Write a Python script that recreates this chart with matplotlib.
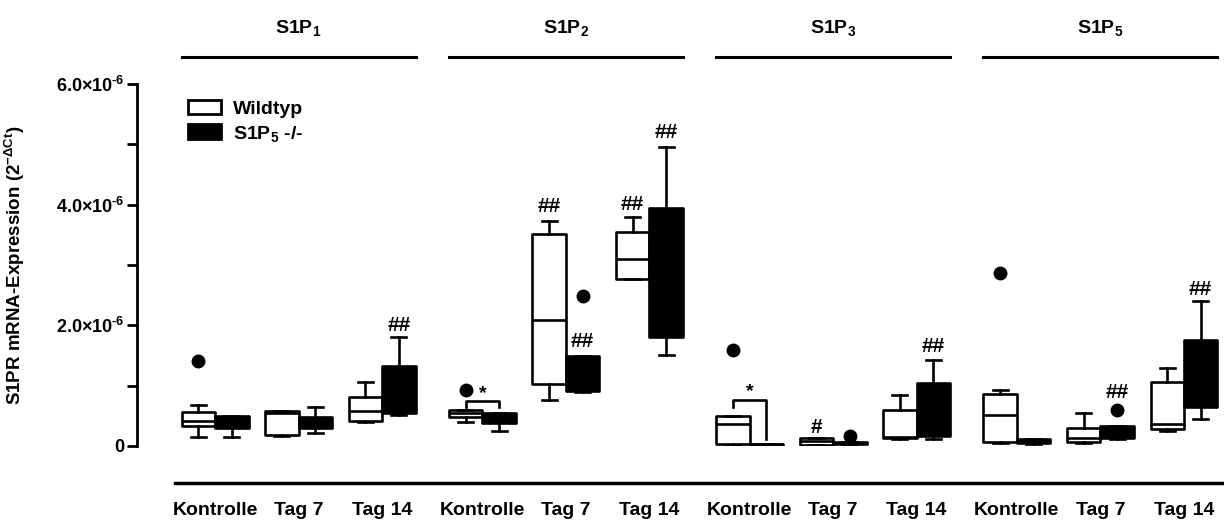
import matplotlib
matplotlib.use("Agg")
import matplotlib.pyplot as plt
from matplotlib.patches import Patch

plt.rcParams['font.family'] = ['Liberation Sans', 'DejaVu Sans']
plt.rcParams['font.weight'] = 'bold'
plt.rcParams['mathtext.fontset'] = 'custom'
plt.rcParams['mathtext.rm'] = 'Liberation Sans'
plt.rcParams['mathtext.bf'] = 'Liberation Sans:bold'
plt.rcParams['mathtext.it'] = 'Liberation Sans:italic'

# Gruppen und Zeitpunkte
rezeptoren = [r'$\mathbf{S1P_1}$', r'$\mathbf{S1P_2}$', r'$\mathbf{S1P_3}$', r'$\mathbf{S1P_5}$']
zeitpunkte = ['Kontrolle', 'Tag 7', 'Tag 14']

# Boxplot-Kennwerte (x 1e-6), Reihenfolge: S1P1 K/T7/T14, S1P2 ..., S1P3 ..., S1P5 ...
wt_lo  = [0.15, 0.17, 0.40, 0.40, 0.76, 2.76, 0.02, 0.01, 0.12, 0.05, 0.05, 0.25]
wt_q1  = [0.33, 0.18, 0.41, 0.48, 1.03, 2.77, 0.04, 0.02, 0.13, 0.06, 0.06, 0.28]
wt_med = [0.42, 0.55, 0.58, 0.54, 2.09, 3.10, 0.37, 0.08, 0.15, 0.52, 0.14, 0.37]
wt_q3  = [0.57, 0.58, 0.81, 0.59, 3.51, 3.55, 0.49, 0.135, 0.59, 0.86, 0.30, 1.06]
wt_hi  = [0.68, 0.58, 1.06, 0.60, 3.73, 3.79, 0.49, 0.135, 0.85, 0.92, 0.54, 1.30]

ko_lo  = [0.15, 0.22, 0.51, 0.25, 0.90, 1.50, 0.01, 0.03, 0.12, 0.04, 0.12, 0.44]
ko_q1  = [0.30, 0.30, 0.54, 0.38, 0.91, 1.80, 0.02, 0.04, 0.16, 0.05, 0.13, 0.64]
ko_med = [0.40, 0.40, 0.90, 0.45, 1.20, 2.80, 0.03, 0.05, 0.50, 0.08, 0.20, 1.20]
ko_q3  = [0.49, 0.48, 1.33, 0.55, 1.49, 3.94, 0.04, 0.07, 1.05, 0.12, 0.33, 1.75]
ko_hi  = [0.49, 0.65, 1.81, 0.55, 1.49, 4.95, 0.04, 0.07, 1.42, 0.12, 0.33, 2.40]

# Ausreisser: (Index, Genotyp, Wert)
ausreisser = [(0, 'wt', 1.40), (3, 'wt', 0.92), (4, 'ko', 2.49), (6, 'wt', 1.59),
              (7, 'ko', 0.16), (9, 'wt', 2.86), (10, 'ko', 0.59)]

# Signifikanzzeichen: (Index, Genotyp, Text, y)
zeichen = [(2, 'ko', '##', 1.99), (4, 'wt', '##', 3.96), (4, 'ko', '##', 1.73),
           (5, 'wt', '##', 4.00), (5, 'ko', '##', 5.19), (7, 'wt', '#', 0.31),
           (8, 'ko', '##', 1.65), (10, 'ko', '##', 0.88), (11, 'ko', '##', 2.60)]

# Klammern WT vs KO: (Index, y oben, y links unten, y rechts unten)
klammern = [(3, 0.74, 0.64, 0.64), (6, 0.77, 0.65, 0.12)]

E = 1e-6
gruppen_abstand = 3.2
pos = [g * gruppen_abstand + c for g in range(4) for c in range(3)]
dx = 0.2

fig = plt.figure(figsize=(12.24, 5.21), dpi=100)
ax = fig.add_axes([0.112, 0.144, 0.888, 0.695])

def stats(lo, q1, med, q3, hi):
    return [dict(whislo=a * E, q1=b * E, med=c * E, q3=d * E, whishi=e * E, fliers=[])
            for a, b, c, d, e in zip(lo, q1, med, q3, hi)]

lw = 1.9
for st, off, fc in [(stats(wt_lo, wt_q1, wt_med, wt_q3, wt_hi), -dx, 'white'),
                    (stats(ko_lo, ko_q1, ko_med, ko_q3, ko_hi), dx, 'black')]:
    ax.bxp(st, positions=[p + off for p in pos], widths=0.4, capwidths=0.18,
           patch_artist=True, showfliers=False, manage_ticks=False,
           boxprops=dict(facecolor=fc, edgecolor='black', linewidth=lw, joinstyle='round'),
           medianprops=dict(color='black', linewidth=lw),
           whiskerprops=dict(color='black', linewidth=lw),
           capprops=dict(color='black', linewidth=lw))

for i, gt, v in ausreisser:
    x = pos[i] + (-dx if gt == 'wt' else dx)
    ax.plot(x, v * E, 'o', color='black', ms=9, clip_on=False, zorder=5)

for i, gt, t, y in zeichen:
    x = pos[i] + (-dx if gt == 'wt' else dx)
    ax.text(x, y * E, t, ha='center', va='center', fontsize=15, fontweight='bold')

for i, top, lb, rb in klammern:
    xl, xr = pos[i] - dx, pos[i] + dx
    ax.plot([xl, xl, xr, xr], [lb * E, top * E, top * E, rb * E], color='black', lw=1.9)
    ax.text(pos[i], top * E + 0.13 * E, '*', ha='center', va='center', fontsize=14)

# Kopfzeilen mit Linien
for g, name in enumerate(rezeptoren):
    x0 = g * gruppen_abstand - 2 * dx
    x1 = g * gruppen_abstand + 2 + 2 * dx
    ax.plot([x0, x1], [6.44 * E] * 2, color='black', lw=2.2, clip_on=False)
    ax.text(g * gruppen_abstand + 1, 6.92 * E, name, ha='center', va='center', fontsize=14)

# Linie unter der Grafik
ax.plot([-0.48, 12.2], [-0.61 * E] * 2, color='black', lw=2.5, clip_on=False)

ax.set_xlim(-0.934, 12.08)
ax.set_ylim(0, 6 * E)
ax.set_xticks(pos)
ax.set_xticklabels(zeitpunkte * 4, fontsize=14, fontweight='bold')
ax.tick_params(axis='x', length=0, pad=40)
ax.set_yticks([0, 1 * E, 2 * E, 3 * E, 4 * E, 5 * E, 6 * E])
ax.set_yticklabels(['0', '', r'$\mathbf{2.0{\times}10^{\text{-}6}}$', '',
                    r'$\mathbf{4.0{\times}10^{\text{-}6}}$', '',
                    r'$\mathbf{6.0{\times}10^{\text{-}6}}$'],
                   fontsize=13)
ax.tick_params(axis='y', length=7, width=2, pad=2)
for s in ['top', 'right', 'bottom']:
    ax.spines[s].set_visible(False)
ax.spines['left'].set_linewidth(2)
ax.set_ylabel(r'S1PR mRNA-Expression (2$^{-\Delta\mathrm{Ct}}$)', fontsize=13.5, fontweight='bold')
ax.yaxis.set_label_coords(-0.101, 0.5)

handles = [Patch(facecolor='white', edgecolor='black', linewidth=2, joinstyle='round'),
           Patch(facecolor='black', edgecolor='black', linewidth=2)]
ax.legend(handles, ['Wildtyp', r'S1P$_5$ -/-'], loc='upper left',
          bbox_to_anchor=(0.031, 1.005), frameon=False, fontsize=14,
          handlelength=1.7, handleheight=0.8, handletextpad=0.6, labelspacing=0.3)

fig.savefig('out.png', dpi=100)
